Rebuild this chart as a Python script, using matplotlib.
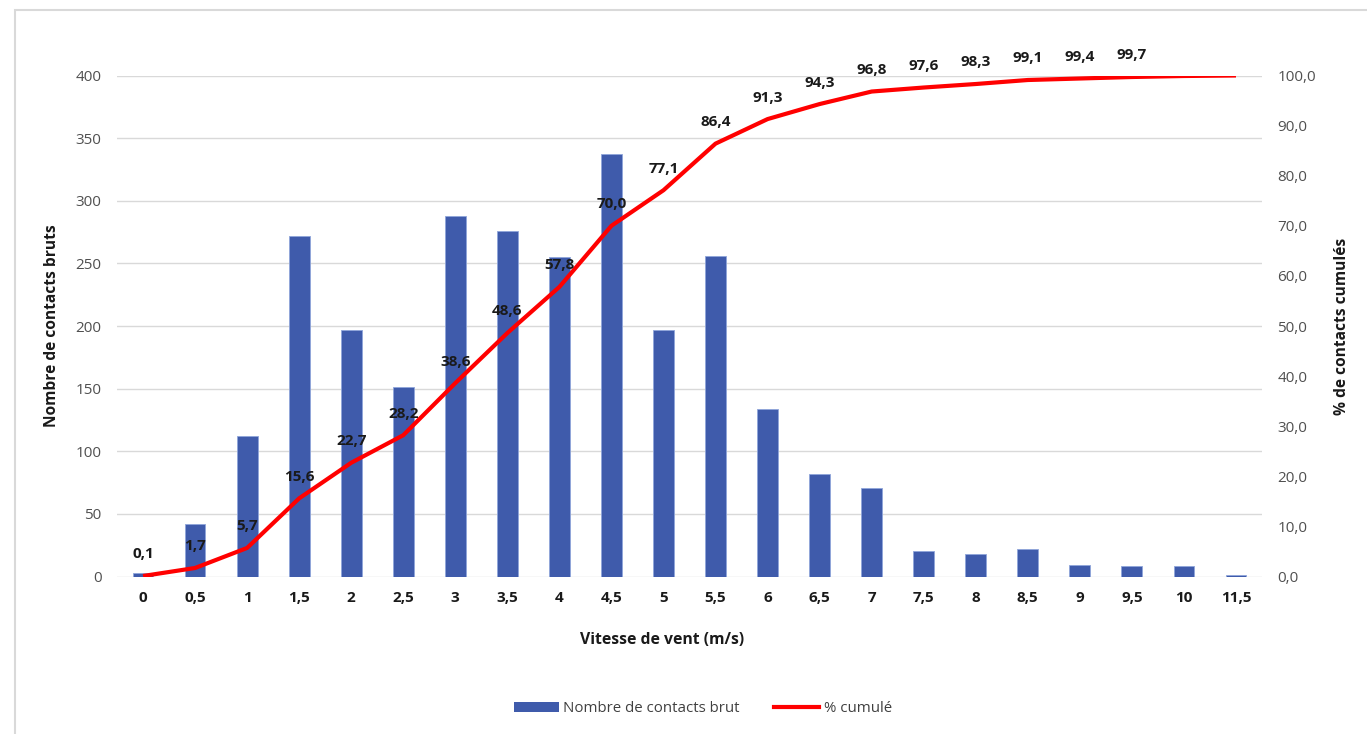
import matplotlib
matplotlib.use("Agg")
import matplotlib.pyplot as plt
from matplotlib.patches import Rectangle, Patch
from matplotlib.lines import Line2D
from matplotlib.ticker import FuncFormatter

plt.rcParams['font.family'] = ['Open Sans', 'DejaVu Sans']

categories = ["0", "0,5", "1", "1,5", "2", "2,5", "3", "3,5", "4", "4,5", "5", "5,5",
              "6", "6,5", "7", "7,5", "8", "8,5", "9", "9,5", "10", "11,5"]
counts = [3, 42, 112, 272, 197, 151, 288, 276, 255, 337, 197, 256,
          134, 82, 71, 20, 18, 22, 9, 8, 8, 1]
cum_pct = [0.1, 1.7, 5.7, 15.6, 22.7, 28.2, 38.6, 48.6, 57.8, 70.0, 77.1, 86.4,
           91.3, 94.3, 96.8, 97.6, 98.3, 99.1, 99.4, 99.7, 99.9, 100.0]
n_labels = 20

W, H = 1367, 734
fig = plt.figure(figsize=(W / 100, H / 100), dpi=100)

# outer chart border
fig.patches.append(Rectangle((15 / W, 0 - 0.02), 1.05, 1 - 10 / H + 0.02,
                             transform=fig.transFigure, fill=False,
                             edgecolor='#D9D9D9', lw=1.5, zorder=0))

left, right = 117 / W, 1262 / W
bottom, top = 1 - 576.5 / H, 1 - 75.5 / H
ax = fig.add_axes([left, bottom, right - left, top - bottom])
ax2 = ax.twinx()

x = list(range(len(categories)))
bar_color = '#3F5BAB'
ax.bar(x, counts, width=0.40, color=bar_color, edgecolor='#8FA5DA', linewidth=0.6, zorder=2)
ax.set_xlim(-0.5, len(categories) - 0.5)
ax.set_ylim(0, 400)
ax.set_yticks(range(0, 401, 50))
ax.grid(axis='y', color='#D9D9D9', lw=1.0, zorder=0)
ax.set_axisbelow(True)
for s in ax.spines.values():
    s.set_visible(False)
for s in ax2.spines.values():
    s.set_visible(False)

ax.set_xticks(x)
ax.set_xticklabels(categories, fontweight='bold', fontsize=11, color='#1a1a1a')
ax.tick_params(axis='x', length=0, pad=10.5)
ax.tick_params(axis='y', length=0, pad=11, labelsize=11, labelcolor='#505050')

ax2.plot(x, cum_pct, color='#FF0000', lw=3, solid_capstyle='butt', zorder=3)
ax2.set_ylim(0, 100)
ax2.set_yticks(range(0, 101, 10))
ax2.yaxis.set_major_formatter(FuncFormatter(lambda v, p: f"{v:.1f}".replace('.', ',')))
ax2.tick_params(axis='y', length=0, pad=11, labelsize=11, labelcolor='#505050')

for i in range(n_labels):
    ax2.annotate(f"{cum_pct[i]:.1f}".replace('.', ','), (x[i], cum_pct[i]),
                 xytext=(0, 15.5), textcoords='offset points', ha='center', va='center',
                 fontsize=11, fontweight='bold', color='#1a1a1a', zorder=5)

ax.set_ylabel("Nombre de contacts bruts", fontsize=11.2, fontweight='bold', color='#1a1a1a')
ax.yaxis.set_label_coords((60 - 117) / 1145, 0.5)
ax2.set_ylabel("% de contacts cumulés", fontsize=11.2, fontweight='bold', color='#1a1a1a')
ax2.yaxis.set_label_coords((1334 - 117) / 1145, 0.5)

fig.text(662 / W, 1 - 640 / H, "Vitesse de vent (m/s)", ha='center', va='center',
         fontsize=11.3, fontweight='bold', color='#1a1a1a')

handles = [Patch(facecolor=bar_color, edgecolor='none'),
           Line2D([0], [0], color='#FF0000', lw=3)]
fig.legend(handles, ["Nombre de contacts brut", "% cumulé"], loc='center',
           bbox_to_anchor=(703 / W, 1 - 709 / H), ncol=2, frameon=False,
           fontsize=10.8, handlelength=3.0, handleheight=0.6, columnspacing=2.3,
           handletextpad=0.3, labelcolor='#404040')

fig.savefig("out.png", dpi=100)
